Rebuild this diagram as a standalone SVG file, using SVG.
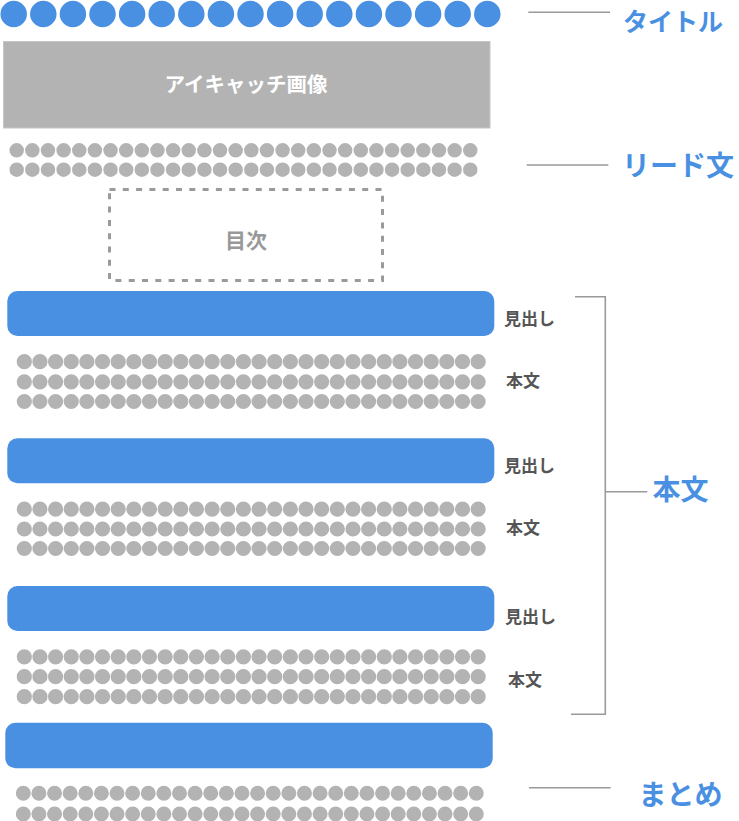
<svg xmlns="http://www.w3.org/2000/svg" width="739" height="821" viewBox="0 0 739 821">
<style>
.bg{fill:#ffffff}
.dots{stroke:#b3b3b3;stroke-linecap:round;fill:none}
.tdots{stroke:#4a90e2;stroke-linecap:round;fill:none}
.head{fill:#4a90e2}
.conn{stroke:#9a9a9a;stroke-width:1.6;fill:none}
.big{font-family:"Noto Sans CJK JP","Noto Sans",sans-serif;font-weight:700;font-size:28px;fill:#4a90e2;dominant-baseline:central}
.small{font-family:"Noto Sans CJK JP","Noto Sans",sans-serif;font-weight:700;font-size:17px;fill:#555555;dominant-baseline:central}
</style>
<rect class="bg" x="0" y="0" width="739" height="821"/>

<g id="title">
  <line class="tdots" x1="13.7" y1="14" x2="488.5" y2="14" stroke-width="26.5" stroke-dasharray="0 29.6"/>
</g>

<g id="eyecatch">
  <rect x="3.5" y="41.5" width="486.5" height="86.5" fill="#b3b3b3" stroke="#c6c6c6" stroke-width="1"/>
  <text x="246" y="82.5" text-anchor="middle" font-family="'Noto Sans CJK JP','Noto Sans',sans-serif" font-weight="700" font-size="20.5" fill="#ffffff" dominant-baseline="central">アイキャッチ画像</text>
</g>

<g id="lead">
  <line class="dots" x1="16.7" y1="150.3" x2="471" y2="150.3" stroke-width="14.5" stroke-dasharray="0 15.64"/>
  <line class="dots" x1="16.7" y1="169.7" x2="471" y2="169.7" stroke-width="14.5" stroke-dasharray="0 15.64"/>
</g>

<g id="toc">
  <rect x="109.5" y="189.5" width="273" height="91" fill="none" stroke="#9a9a9a" stroke-width="3" stroke-dasharray="6 7.3"/>
  <text x="246" y="239" text-anchor="middle" font-family="'Noto Sans CJK JP','Noto Sans',sans-serif" font-weight="700" font-size="21" fill="#999999" dominant-baseline="central">目次</text>
</g>

<g id="heading1">
  <rect class="head" x="7.3" y="291" width="487" height="45" rx="10"/>
  <text class="small" x="504" y="317.5">見出し</text>
</g>
<g id="body1">
  <line class="dots" x1="24.3" y1="361.7" x2="479" y2="361.7" stroke-width="15.2" stroke-dasharray="0 15.65"/>
  <line class="dots" x1="24.3" y1="381.8" x2="479" y2="381.8" stroke-width="15.2" stroke-dasharray="0 15.65"/>
  <line class="dots" x1="24.3" y1="401.5" x2="479" y2="401.5" stroke-width="15.2" stroke-dasharray="0 15.65"/>
  <text class="small" x="506" y="379.5">本文</text>
</g>

<g id="heading2">
  <rect class="head" x="7.3" y="438.3" width="487" height="45" rx="10"/>
  <text class="small" x="504" y="464.5">見出し</text>
</g>
<g id="body2">
  <line class="dots" x1="24.3" y1="509.2" x2="479" y2="509.2" stroke-width="15.2" stroke-dasharray="0 15.65"/>
  <line class="dots" x1="24.3" y1="529" x2="479" y2="529" stroke-width="15.2" stroke-dasharray="0 15.65"/>
  <line class="dots" x1="24.3" y1="548.5" x2="479" y2="548.5" stroke-width="15.2" stroke-dasharray="0 15.65"/>
  <text class="small" x="506" y="526.8">本文</text>
</g>

<g id="heading3">
  <rect class="head" x="7.3" y="586" width="487" height="45" rx="10"/>
  <text class="small" x="505" y="615.2">見出し</text>
</g>
<g id="body3">
  <line class="dots" x1="24.3" y1="656.8" x2="479" y2="656.8" stroke-width="15.2" stroke-dasharray="0 15.65"/>
  <line class="dots" x1="24.3" y1="676.7" x2="479" y2="676.7" stroke-width="15.2" stroke-dasharray="0 15.65"/>
  <line class="dots" x1="24.3" y1="696.7" x2="479" y2="696.7" stroke-width="15.2" stroke-dasharray="0 15.65"/>
  <text class="small" x="508" y="678.5">本文</text>
</g>

<g id="heading4">
  <rect class="head" x="5.3" y="722.7" width="487.4" height="45.6" rx="10"/>
</g>
<g id="summary">
  <line class="dots" x1="23.3" y1="793.3" x2="477" y2="793.3" stroke-width="15" stroke-dasharray="0 15.62"/>
  <line class="dots" x1="23.3" y1="814" x2="477" y2="814" stroke-width="15" stroke-dasharray="0 15.62"/>
</g>

<g id="connectors">
  <line class="conn" x1="528.3" y1="12.3" x2="610" y2="12.3"/>
  <line class="conn" x1="526.7" y1="165" x2="608.3" y2="165"/>
  <path class="conn" d="M575 296.7 H605.3 V714.3 H571"/>
  <line class="conn" x1="605.3" y1="491.7" x2="647.3" y2="491.7"/>
  <line class="conn" x1="529" y1="787.7" x2="610.7" y2="787.7"/>
</g>

<g id="labels">
  <text class="big" x="623" y="19.5" style="font-size:25px">タイトル</text>
  <text class="big" x="622" y="164">リード文</text>
  <text class="big" x="652.5" y="488">本文</text>
  <text class="big" x="638.5" y="793">まとめ</text>
</g>
</svg>
